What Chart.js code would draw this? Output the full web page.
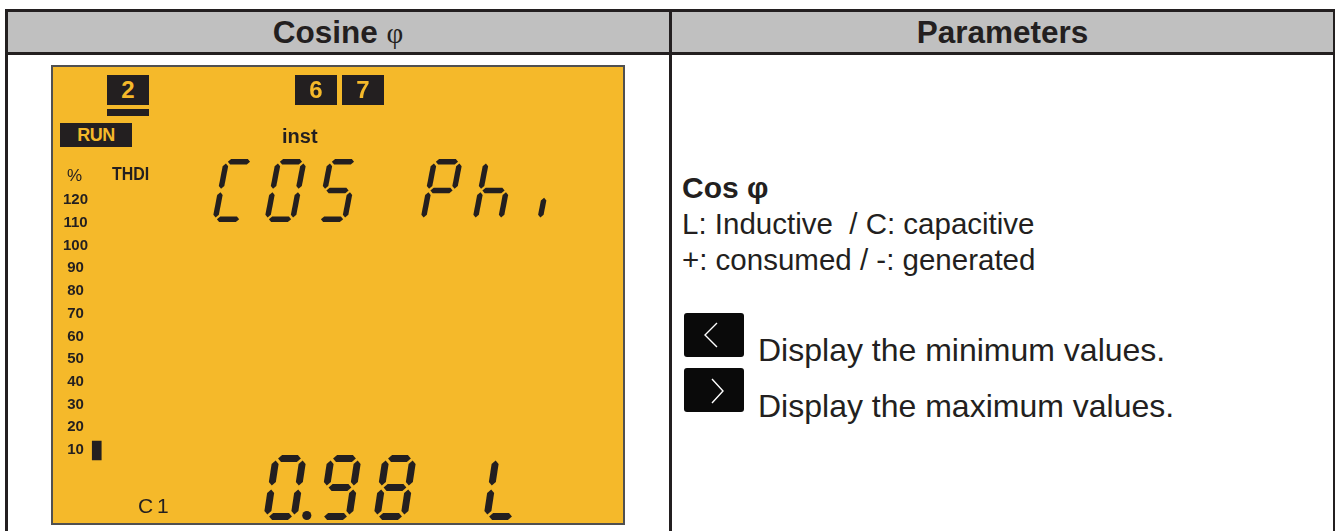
<!DOCTYPE html>
<html>
<head>
<meta charset="utf-8">
<script src="https://cdn.jsdelivr.net/npm/chart.js@4.4.1/dist/chart.umd.min.js"></script>
<style>
  html, body { margin: 0; padding: 0; background: #fff; }
  body { width: 1341px; height: 531px; overflow: hidden; position: relative;
         font-family: 'Liberation Sans', Arial, sans-serif; color: #231f20; }
  .ln { position: absolute; background: #231f20; }
  .hdr { position: absolute; top: 11px; height: 41px; line-height: 42px; text-align: center;
         font-weight: bold; font-size: 31.5px; }
  .txt { position: absolute; white-space: pre; line-height: 1; }
  .key { position: absolute; left: 684px; width: 60px; height: 44px; background: #0a0a0a; border-radius: 3px; }
  #lcd-wrap { position: absolute; left: 51px; top: 65px; width: 574px; height: 460px; }
  #lcd-wrap canvas { position: absolute; left: 0; top: 0; }
  .lcd-frame { position: absolute; left: 0; top: 0; width: 574px; height: 460px; box-sizing: border-box;
               border: 2px solid #505050; pointer-events: none; }
  .seg-box { position: absolute; background: #231f20; color: #f5b92a; font-weight: bold; text-align: center; }
  .lbl { position: absolute; white-space: pre; line-height: 1; color: #231f20; }
</style>
</head>
<body>
  <!-- table -->
  <div class="ln" style="left:5px;top:9px;width:1330px;height:45px;background:#c0c0c0"></div>
  <div class="ln" style="left:5px;top:9px;width:1330px;height:2.5px"></div>
  <div class="ln" style="left:5px;top:52px;width:1330px;height:2.5px"></div>
  <div class="ln" style="left:5px;top:9px;width:2.5px;height:530px"></div>
  <div class="ln" style="left:1332.5px;top:9px;width:2.5px;height:530px"></div>
  <div class="ln" style="left:669px;top:9px;width:3px;height:530px"></div>
  <div class="hdr" style="left:7px;width:662px">Cosine <span style="font-weight:normal;font-family:'Liberation Serif',serif;font-size:29px">φ</span></div>
  <div class="hdr" style="left:672px;width:661px">Parameters</div>

  <!-- right column -->
  <div class="txt" style="left:682px;top:173px;font-size:30px;font-weight:bold">Cos φ</div>
  <div class="txt" style="left:682px;top:209px;font-size:29.5px">L: Inductive  / C: capacitive</div>
  <div class="txt" style="left:682px;top:245px;font-size:29.5px">+: consumed / -: generated</div>
  <div class="key" style="top:313px">
    <svg width="60" height="44"><polyline points="33,10 21,22 33,34" fill="none" stroke="#fff" stroke-width="1.4"/></svg>
  </div>
  <div class="key" style="top:368px">
    <svg width="60" height="45"><polyline points="28,11 39,23 28,35" fill="none" stroke="#fff" stroke-width="1.4"/></svg>
  </div>
  <div class="txt" style="left:758px;top:334px;font-size:32px">Display the minimum values.</div>
  <div class="txt" style="left:758px;top:390px;font-size:32px">Display the maximum values.</div>

  <!-- LCD -->
  <div id="lcd-wrap">
    <canvas id="lcd" width="574" height="460"></canvas>
    <div class="seg-box" style="left:56px;top:10px;width:42px;height:30px;line-height:30px;font-size:24px">2</div>
    <div class="seg-box" style="left:56px;top:44px;width:42px;height:7px"></div>
    <div class="seg-box" style="left:244px;top:10px;width:42px;height:30px;line-height:30px;font-size:24px">6</div>
    <div class="seg-box" style="left:291px;top:10px;width:42px;height:30px;line-height:30px;font-size:24px">7</div>
    <div class="seg-box" style="left:9px;top:58px;width:72px;height:24px;line-height:25px;font-size:18px;letter-spacing:-0.5px">RUN</div>
    <div class="lbl" style="left:231px;top:61px;font-size:20px;font-weight:bold">inst</div>
    <div class="lbl" style="left:16px;top:102px;font-size:17px">%</div>
    <div class="lbl" style="left:61px;top:99px;font-size:19px;font-weight:bold;transform:scaleX(0.84);transform-origin:0 0">THDI</div>
    <div class="lbl" style="left:87px;top:430px;font-size:21px;letter-spacing:-1px">C 1</div>
    <div class="lcd-frame"></div>
  </div>

<script>
// bar graph data (one channel, one lit segment around 10 %)
const categories = ['C 1'];
const barLow = [5.6];
const barHigh = [13.9];
const tickLabels = [120, 110, 100, 90, 80, 70, 60, 50, 40, 30, 20, 10];

// seven segment readouts
const topMessage = ['COS Phi'];
const cosPhi = [0.98];
const loadType = ['L'];

const LCD_BG = '#f5b92a';
const INK = '#231f20';

const SEGS = {
  '0': 'abcdef', '1': 'bc', '2': 'abdeg', '3': 'abcdg', '4': 'bcfg', '5': 'acdfg',
  '6': 'acdefg', '7': 'abc', '8': 'abcdefg', '9': 'abcdfg',
  'C': 'adef', 'O': 'abcdef', 'S': 'acdfg', 'P': 'abefg', 'h': 'cefg', 'L': 'def', 'i': 'j', ' ': ''
};

function segPoly(s, w, h, t) {
  const g = t * 0.3, k = t / 2;
  const xl = k, xr = w - k, yt = k, ym = h / 2, yb = h - k;
  const hor = (x1, x2, y) => [[x1, y], [x1 + k, y - k], [x2 - k, y - k], [x2, y], [x2 - k, y + k], [x1 + k, y + k]];
  const ver = (x, y1, y2) => [[x, y1], [x + k, y1 + k], [x + k, y2 - k], [x, y2], [x - k, y2 - k], [x - k, y1 + k]];
  switch (s) {
    case 'a': return hor(xl + g, xr - g, yt);
    case 'g': return hor(xl + g, xr - g, ym);
    case 'd': return hor(xl + g, xr - g, yb);
    case 'f': return ver(xl, yt + g, ym - g);
    case 'e': return ver(xl, ym + g, yb - g);
    case 'b': return ver(xr, yt + g, ym - g);
    case 'c': return ver(xr, ym + g, yb - g);
    case 'j': return ver(w / 2, ym + g + t, yb - g);
  }
  return [];
}

function drawSegText(ctx, str, o) {
  let x = o.x;
  ctx.fillStyle = INK;
  for (const ch of str) {
    if (ch === '.') {
      ctx.beginPath();
      ctx.arc(x - o.pitch + o.w + o.t * 1.4, o.y + o.h - o.t * 0.65, o.t * 0.65, 0, Math.PI * 2);
      ctx.fill();
      continue;
    }
    for (const s of (SEGS[ch] || '')) {
      const pts = segPoly(s, o.w, o.h, o.t);
      ctx.beginPath();
      pts.forEach(([px, py], i) => {
        const X = x + px + o.slant * (1 - py / o.h), Y = o.y + py;
        if (i) ctx.lineTo(X, Y); else ctx.moveTo(X, Y);
      });
      ctx.closePath();
      ctx.fill();
    }
    x += o.pitch;
  }
}

const lcdPlugin = {
  id: 'lcd',
  beforeDraw(chart) {
    const c = chart.ctx;
    c.save();
    c.fillStyle = LCD_BG;
    c.fillRect(0, 0, chart.width, chart.height);
    c.restore();
  },
  afterDraw(chart) {
    const c = chart.ctx;
    c.save();
    drawSegText(c, topMessage[0], { x: 161, y: 94, w: 31, h: 63, slant: 12, t: 5.5, pitch: 52 });
    const reading = cosPhi[0].toFixed(2) + ' ' + loadType[0];
    drawSegText(c, reading, { x: 212, y: 390, w: 34, h: 65, slant: 10, t: 7, pitch: 55 });
    c.restore();
  }
};

new Chart(document.getElementById('lcd').getContext('2d'), {
  type: 'bar',
  data: {
    labels: categories,
    datasets: [{
      data: categories.map((c, i) => [barLow[i], barHigh[i]]),
      backgroundColor: INK,
      borderWidth: 0,
      barThickness: 9
    }]
  },
  options: {
    responsive: false,
    animation: false,
    devicePixelRatio: 1,
    layout: { padding: { left: 0, right: 490.5, top: 112.3, bottom: 52.3 } },
    plugins: { legend: { display: false }, tooltip: { enabled: false } },
    scales: {
      x: { display: false },
      y: {
        min: 0, max: 130,
        afterBuildTicks: s => { s.ticks = tickLabels.map(v => ({ value: v })); },
        grid: { display: false, drawTicks: false },
        border: { display: false },
        ticks: {
          mirror: true, padding: 4, crossAlign: 'center', color: INK,
          font: { family: "'Liberation Sans', Arial, sans-serif", size: 15, weight: 'bold' }
        }
      }
    }
  },
  plugins: [lcdPlugin]
});
</script>
</body>
</html>
